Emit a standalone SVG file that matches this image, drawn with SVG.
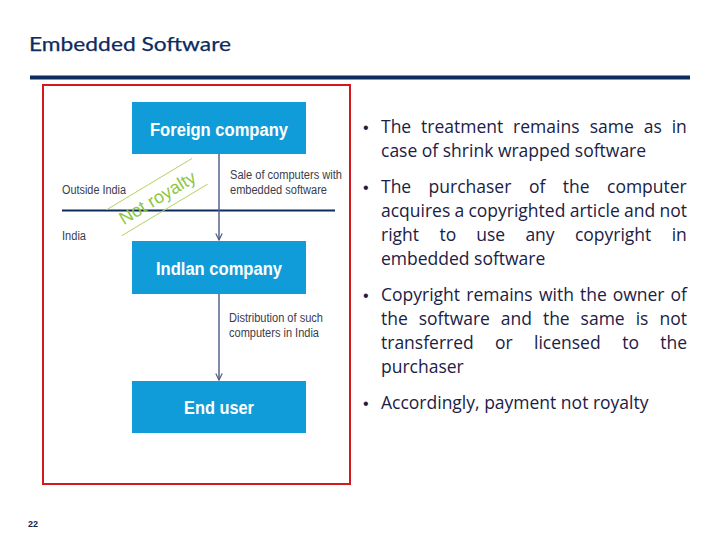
<svg xmlns="http://www.w3.org/2000/svg" width="720" height="540" viewBox="0 0 720 540">
  <style>
    .title { font-family: Lato, "Open Sans", sans-serif; font-size: 20px; fill: #0d2b5e; stroke: #0d2b5e; stroke-width: 0.25; }
    .box { fill: #109cd8; }
    .boxtxt { font-family: "Liberation Sans", Arial, sans-serif; font-weight: bold; font-size: 18px; fill: #ffffff; text-anchor: middle; }
    .lbl { font-family: "Liberation Sans", Arial, sans-serif; font-size: 12px; fill: #3a3d4d; }
    .bul { font-family: "Open Sans", "Noto Sans", sans-serif; font-size: 17.5px; fill: #1b2145; }
    .dot { font-family: "Liberation Sans", Arial, sans-serif; font-size: 16px; fill: #1b2145; }
    .conn { stroke: #56628c; stroke-width: 1.5; fill: none; }
    .stamp { font-family: "Liberation Sans", Arial, sans-serif; font-size: 18px; fill: #8dc63f; text-anchor: middle; }
  </style>
  <defs>
    <marker id="arr" viewBox="0 0 10 10" refX="9" refY="5" markerWidth="8" markerHeight="8" orient="auto" markerUnits="userSpaceOnUse">
      <path d="M1,1 L9,5 L1,9" fill="none" stroke="#4d5a85" stroke-width="1.5"/>
    </marker>
  </defs>
  <rect width="720" height="540" fill="#ffffff"/>

  <g id="header">
    <text class="title" x="29" y="51" textLength="202" lengthAdjust="spacingAndGlyphs">Embedded Software</text>
    <rect x="30" y="75.5" width="660" height="4" fill="#0d2b5e"/>
  </g>

  <g id="frame">
    <rect x="43" y="85" width="307" height="399" fill="none" stroke="#d3181f" stroke-width="2"/>
  </g>

  <g id="border-line">
    <line x1="62" y1="210.5" x2="335" y2="210.5" stroke="#0d2b5e" stroke-width="2"/>
    <text class="lbl" x="62" y="194" textLength="64" lengthAdjust="spacingAndGlyphs">Outside India</text>
    <text class="lbl" x="62" y="240" textLength="24" lengthAdjust="spacingAndGlyphs" fill="#2a2d40">India</text>
  </g>

  <g id="stamp" transform="translate(157,197) rotate(-31)">
    <line x1="-50" y1="-15" x2="50" y2="-15" stroke="#b5d36a" stroke-width="1"/>
    <line x1="-50" y1="15" x2="50" y2="15" stroke="#b5d36a" stroke-width="1"/>
    <text class="stamp" x="0" y="7">Not royalty</text>
  </g>

  <g id="connectors">
    <line class="conn" x1="219" y1="154" x2="219" y2="240" marker-end="url(#arr)"/>
    <line class="conn" x1="219" y1="294" x2="219" y2="380" marker-end="url(#arr)"/>
    <text class="lbl" x="230" y="179" textLength="112" lengthAdjust="spacingAndGlyphs">Sale of computers with</text>
    <text class="lbl" x="230" y="194" textLength="97" lengthAdjust="spacingAndGlyphs">embedded software</text>
    <text class="lbl" x="229" y="322" textLength="94" lengthAdjust="spacingAndGlyphs">Distribution of such</text>
    <text class="lbl" x="229" y="337" textLength="90" lengthAdjust="spacingAndGlyphs">computers in India</text>
  </g>

  <g id="foreign-company">
    <rect class="box" x="132" y="102" width="174" height="52"/>
    <text class="boxtxt" x="219" y="136" textLength="138" lengthAdjust="spacingAndGlyphs">Foreign company</text>
  </g>
  <g id="indian-company">
    <rect class="box" x="132" y="241" width="174" height="53"/>
    <text class="boxtxt" x="219" y="275" textLength="126" lengthAdjust="spacingAndGlyphs">Indlan company</text>
  </g>
  <g id="end-user">
    <rect class="box" x="132" y="381" width="174" height="52"/>
    <text class="boxtxt" x="219" y="414" textLength="70" lengthAdjust="spacingAndGlyphs">End user</text>
  </g>

  <g id="bullets">
    <text class="dot" x="363" y="133">•</text>
    <text class="bul" y="133"><tspan x="381">The</tspan><tspan x="421.1">treatment</tspan><tspan x="513.1">remains</tspan><tspan x="589.7">same</tspan><tspan x="643.8">as</tspan><tspan x="671.7">in</tspan></text>
    <text class="bul" x="381" y="157">case of shrink wrapped software</text>

    <text class="dot" x="363" y="193">•</text>
    <text class="bul" y="193"><tspan x="381">The</tspan><tspan x="428.6">purchaser</tspan><tspan x="529">of</tspan><tspan x="562.8">the</tspan><tspan x="607">computer</tspan></text>
    <text class="bul" y="217"><tspan x="381">acquires</tspan><tspan x="454.6">a</tspan><tspan x="468.4">copyrighted</tspan><tspan x="569.7">article</tspan><tspan x="624.1">and</tspan><tspan x="659.5">not</tspan></text>
    <text class="bul" y="241"><tspan x="381">right</tspan><tspan x="439.4">to</tspan><tspan x="476.3">use</tspan><tspan x="525.4">any</tspan><tspan x="574.9">copyright</tspan><tspan x="671.7">in</tspan></text>
    <text class="bul" x="381" y="265">embedded software</text>

    <text class="dot" x="363" y="301">•</text>
    <text class="bul" y="301"><tspan x="381">Copyright</tspan><tspan x="466.3">remains</tspan><tspan x="539">with</tspan><tspan x="580">the</tspan><tspan x="612.7">owner</tspan><tspan x="670.5">of</tspan></text>
    <text class="bul" y="325"><tspan x="381">the</tspan><tspan x="418.7">software</tspan><tspan x="500.8">and</tspan><tspan x="542.9">the</tspan><tspan x="580.6">same</tspan><tspan x="635.7">is</tspan><tspan x="659.5">not</tspan></text>
    <text class="bul" y="349"><tspan x="381">transferred</tspan><tspan x="495.1">or</tspan><tspan x="534">licensed</tspan><tspan x="622.3">to</tspan><tspan x="660.2">the</tspan></text>
    <text class="bul" x="381" y="373">purchaser</text>

    <text class="dot" x="363" y="409">•</text>
    <text class="bul" x="381" y="409">Accordingly, payment not royalty</text>
  </g>

  <g id="page-number">
    <text x="28" y="527" font-family="'Liberation Sans', Arial, sans-serif" font-size="9" font-weight="bold" fill="#1b2145">22</text>
  </g>
</svg>
